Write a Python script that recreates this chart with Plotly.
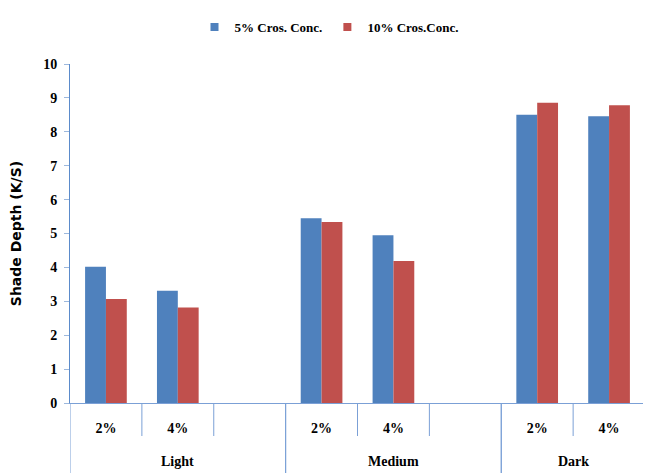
import plotly.graph_objects as go

groups = ["Light", "Light", "Light", "Medium", "Medium", "Medium", "Dark", "Dark"]
levels = ["2%", "4%", " ", "2%", "4%", "  ", "2%", "4%"]
conc5 = [4.02, 3.31, None, 5.45, 4.95, None, 8.50, 8.46]
conc10 = [3.07, 2.82, None, 5.34, 4.19, None, 8.86, 8.78]
series_names = ["5% Cros. Conc.", "10% Cros.Conc."]
colors = ["#4F81BD", "#C0504D"]
y_ticks = list(range(0, 11))

# page body has an 8px margin, figure sized to fill the rest of the window
W, H = 643, 465
ml, mr, mt, mb = 62, 6, 56, 70
plot_h = H - mt - mb

cats = [f"{g}|{l}" for g, l in zip(groups, levels)]
label_font = dict(family="Liberation Serif", size=14, color="black", weight="bold")
axis_col = "#7BA0D6"

fig = go.Figure()
for name, vals, col in zip(series_names, [conc5, conc10], colors):
    fig.add_trace(go.Bar(
        x=cats, y=vals, name=name, marker_color=col,
        marker_line_width=0, showlegend=False,
    ))
# legend proxies (small square swatches)
for name, col in zip(series_names, colors):
    fig.add_trace(go.Scatter(
        x=[cats[0]], y=[None], mode="markers", name=name,
        marker=dict(symbol="square", size=8, color=col), showlegend=True,
    ))

n = len(cats)
shapes = []
annotations = []
# inner separators between categories of the same group
for i in range(n - 1):
    if groups[i] == groups[i + 1]:
        shapes.append(dict(type="line", xref="x", yref="paper",
                           x0=i + 0.5, x1=i + 0.5, y0=0, y1=-33 / plot_h,
                           line=dict(color=axis_col, width=1)))
# group dividers and group labels
bounds = [0] + [i for i in range(1, n) if groups[i] != groups[i - 1]] + [n]
for a, b in zip(bounds[:-1], bounds[1:]):
    for xb in (a - 0.5, b - 0.5):
        shapes.append(dict(type="line", xref="x", yref="paper",
                           x0=xb, x1=xb, y0=0, y1=-mb / plot_h,
                           line=dict(color=axis_col, width=1)))
    annotations.append(dict(text=groups[a], xref="x", yref="paper",
                            x=(a + b - 1) / 2, y=-58 / plot_h, yanchor="middle",
                            showarrow=False, font=label_font))

fig.update_layout(
    width=W, height=H,
    margin=dict(l=ml, r=mr, t=mt, b=mb, autoexpand=False),
    paper_bgcolor="white", plot_bgcolor="white",
    barmode="group", bargap=0.42, bargroupgap=0,
    showlegend=True,
    legend=dict(orientation="h", x=321 / W, xanchor="center", xref="container",
                y=1 - 19 / H, yanchor="middle", yref="container",
                font=dict(family="Liberation Serif", size=13, color="black", weight="bold"),
                itemwidth=30, tracegroupgap=0, bgcolor="rgba(0,0,0,0)"),
    shapes=shapes,
    annotations=annotations,
)

fig.update_xaxes(
    type="category", categoryorder="array", categoryarray=cats,
    tickvals=cats, ticktext=levels, range=[-0.5, n - 0.5],
    showline=True, linecolor=axis_col, linewidth=1,
    ticks="", ticklabelstandoff=12, showgrid=False, zeroline=False,
    tickfont=label_font, automargin=False,
)
fig.update_yaxes(
    range=[0, 10], tickvals=y_ticks, ticktext=[str(v) for v in y_ticks],
    showline=True, linecolor="#5B8BCB", linewidth=1,
    ticks="outside", ticklen=5, tickcolor="#9DB8DD",
    ticklabelstandoff=4,
    showgrid=False, zeroline=False,
    tickfont=label_font, automargin=False,
    title=dict(text="Shade Depth (K/S)", standoff=22,
               font=dict(family="DejaVu Sans", size=14, color="black", weight="bold")),
)

fig.write_html("out.html")
